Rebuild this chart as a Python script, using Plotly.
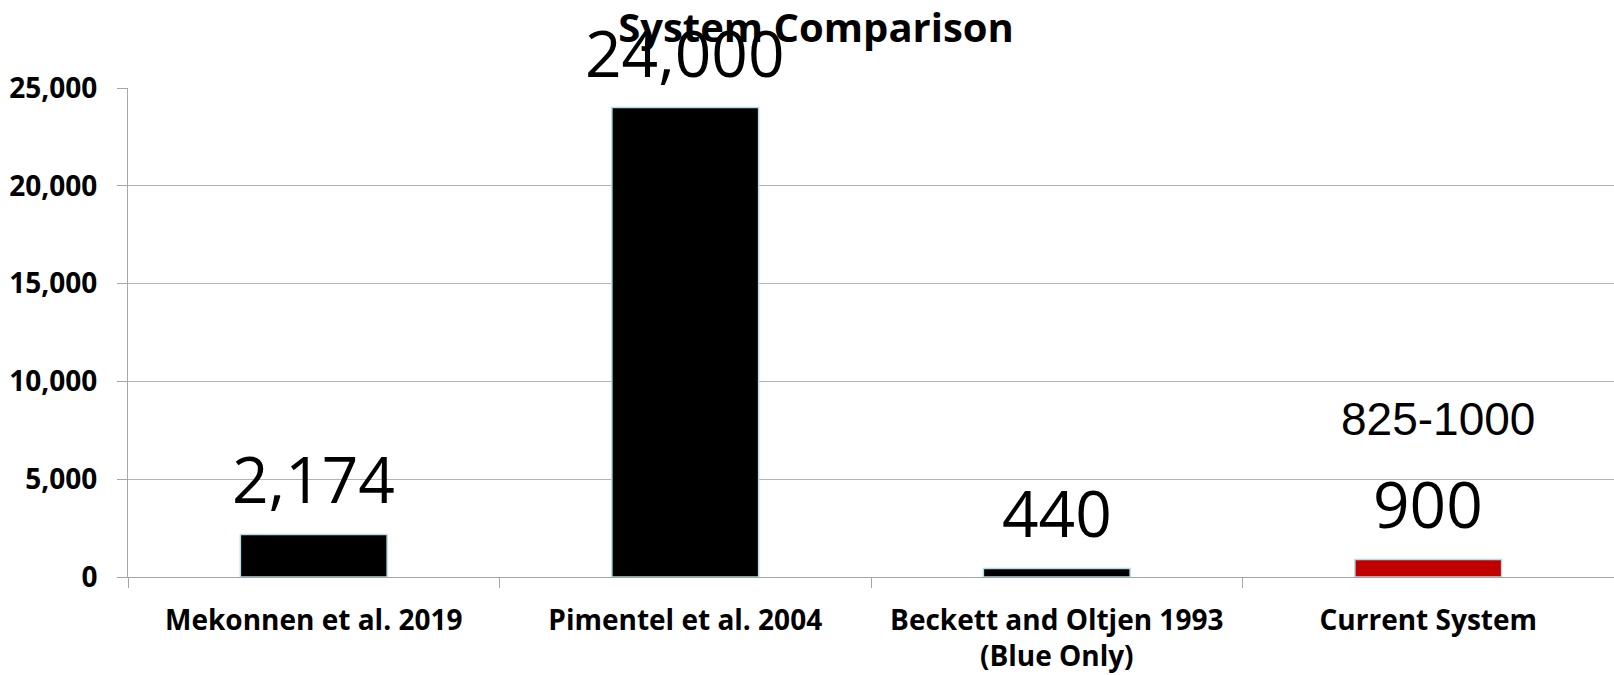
import plotly.graph_objects as go

categories = ["Mekonnen et al. 2019", "Pimentel et al. 2004",
              "Beckett and Oltjen 1993<br>(Blue Only)", "Current System"]
values = [2174, 24000, 440, 900]
bar_colors = ["#000000", "#000000", "#000000", "#C00000"]
range_label = "825-1000"
y_ticks = [0, 5000, 10000, 15000, 20000, 25000]
y_tick_text = ["0", "5,000", "10,000", "15,000", "20,000", "25,000"]

fig = go.Figure()
fig.add_trace(go.Bar(
    x=categories, y=values,
    marker=dict(color=bar_colors, line=dict(color="#b4dde4", width=1.5)),
    width=0.395,
    hoverinfo="skip",
))

for c, v in zip(categories, values):
    fig.add_annotation(x=c, y=v, text=f"{v:,}", showarrow=False,
                       yanchor="bottom", yshift=10,
                       font=dict(family="Open Sans", size=64, color="#000000"))

fig.add_annotation(x=categories[3], y=8100, text=range_label, showarrow=False,
                   xshift=10, yanchor="middle",
                   font=dict(family="Liberation Sans", size=46, color="#000000"))

fig.update_layout(
    width=1614, height=675,
    margin=dict(l=128, r=0, t=88, b=98),
    plot_bgcolor="#ffffff", paper_bgcolor="#ffffff",
    showlegend=False,
    title=dict(text="<b>System Comparison</b>", xref="container", yref="container",
               x=0.5056, y=0.958, xanchor="center", yanchor="middle",
               font=dict(family="Open Sans", size=40, color="#000000")),
    font=dict(family="Open Sans", color="#000000"),
)
fig.update_yaxes(
    range=[0, 25000], tickvals=y_ticks, ticktext=y_tick_text,
    showgrid=True, gridcolor="#b3b3b3", gridwidth=1,
    showline=True, linecolor="#a6a6a6", linewidth=1,
    ticks="outside", ticklen=10, tickcolor="#a6a6a6",
    ticklabelstandoff=14,
    tickfont=dict(family="Open Sans", size=28, color="#000000", weight="bold"),
    zeroline=False,
)
fig.update_xaxes(
    showline=True, linecolor="#a6a6a6", linewidth=1,
    ticks="outside", ticklen=10, tickcolor="#a6a6a6", tickson="boundaries",
    ticklabelstandoff=18,
    tickfont=dict(family="Open Sans", size=28, color="#000000", weight="bold"),
)

fig.write_html("out.html")
